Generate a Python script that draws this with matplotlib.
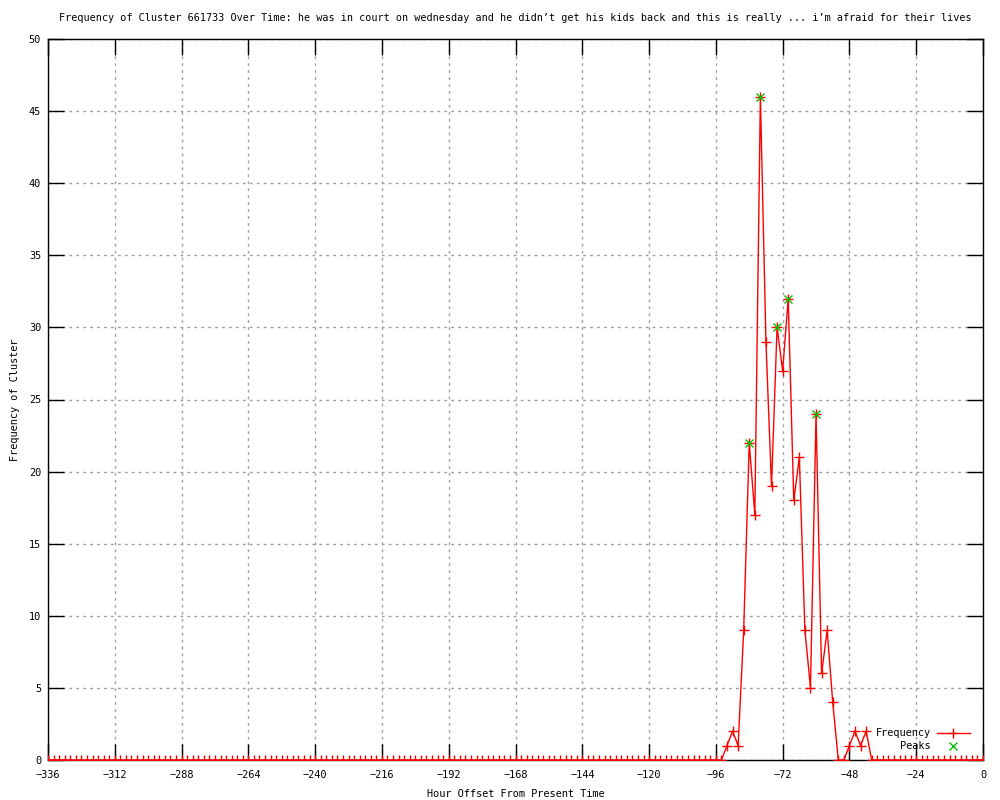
import numpy as np
import matplotlib
matplotlib.use("Agg")
import matplotlib.pyplot as plt
from matplotlib.lines import Line2D

title = ("Frequency of Cluster 661733 Over Time: he was in court on wednesday and he didn\u2019t "
         "get his kids back and this is really ... i\u2019m afraid for their lives")

hours = list(range(-336, 1, 2))
freq = (
    [0] * 122 +                      # -336 .. -94
    [1, 2, 1, 9, 22, 17, 46, 29, 19, 30, 27, 32, 18,   # -92 .. -68
     21, 9, 5, 24, 6, 9, 4, 0, 0, 1, 2, 1, 2] +        # -66 .. -42
    [0] * 21                         # -40 .. 0
)
peak_hours = [-84, -80, -74, -70, -60]
peak_vals = [22, 46, 30, 32, 24]

xticks = list(range(-336, 1, 24))
yticks = list(range(0, 51, 5))

plt.rcParams['font.family'] = ['DejaVu Sans Mono']
plt.rcParams['axes.unicode_minus'] = True
fs = 7.4

fig = plt.figure(figsize=(10, 8), dpi=100)
ax = fig.add_axes([48/1000, 1-760/800, (983-48)/1000, (760-39)/800])

ax.plot(hours, freq, color='red', lw=1.0, marker='+', ms=6.5, mew=1.0, zorder=3)
ax.plot(peak_hours, peak_vals, linestyle='none', color='#00c000', marker='x', ms=5.5, mew=1.0, zorder=4)

ax.set_xlim(-336, 0)
ax.set_ylim(0, 50)
ax.set_xticks(xticks)
ax.set_yticks(yticks)
ax.tick_params(direction='in', length=11.5, width=1, top=True, right=True,
               labelsize=fs, pad=5, color='black')
ax.tick_params(axis='x', pad=7)
ax.grid(True, color='#a0a0a0', linestyle=(0, (2, 3)), linewidth=1)
for s in ax.spines.values():
    s.set_linewidth(1)
    s.set_color('black')

ax.set_xlabel("Hour Offset From Present Time", fontsize=fs, labelpad=7)
ax.set_ylabel("Frequency of Cluster", fontsize=fs, labelpad=6)
fig.text(515/1000, 1 - 18/800, title, ha='center', va='center', fontsize=7.25)

# gnuplot-style key (right-aligned text, sample to the right)
tr = ax.transAxes
y1 = (760 - 733) / 721
y2 = (760 - 746) / 721
xt = (931 - 48) / 935
ax.text(xt, y1, "Frequency", transform=tr, ha='right', va='center', fontsize=fs)
ax.text(xt, y2, "Peaks", transform=tr, ha='right', va='center', fontsize=fs)
ax.add_line(Line2D([(937 - 48) / 935, (970 - 48) / 935], [y1, y1], transform=tr,
                   color='red', lw=1))
ax.add_line(Line2D([(953 - 48) / 935], [y1], transform=tr, color='red', marker='+',
                   ms=6.5, mew=1, linestyle='none'))
ax.add_line(Line2D([(953 - 48) / 935], [y2], transform=tr, color='#00c000', marker='x',
                   ms=5.5, mew=1, linestyle='none'))

fig.savefig("out.png", dpi=100)
